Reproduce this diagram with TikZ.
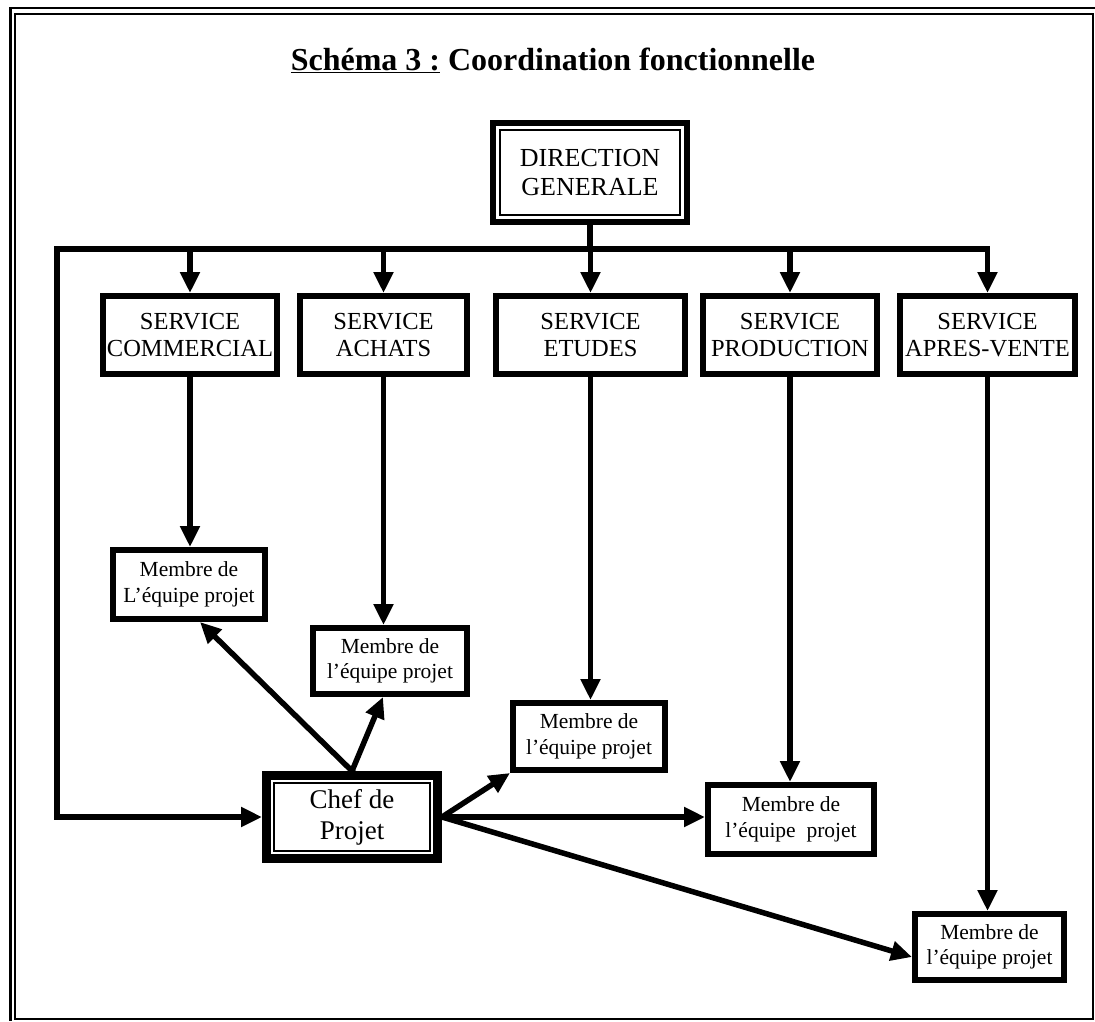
\documentclass[tikz,border=0pt]{standalone}
\usepackage{fontspec}
\setmainfont{Liberation Serif}
\usetikzlibrary{arrows.meta,calc}
\begin{document}
\begin{tikzpicture}[x=1pt,y=-1pt,
  conn/.style={line width=5.5pt,line cap=rect},
  arr/.style={line width=5.5pt,line cap=rect,-{Triangle[width=19pt,length=21pt]}},
  svc/.style={draw,line width=6pt,align=center,inner sep=0pt,
              font=\fontsize{24.5}{27}\selectfont},
  mbr/.style={draw,line width=6pt,align=center,inner sep=0pt,
              font=\fontsize{21.5}{25.5}\selectfont},
  heavybox/.style={draw,align=center,inner sep=0pt}]
\useasboundingbox (0,0) rectangle (1095,1021);

% page frame: heavy outer rule on top and left, thin inner frame
\draw[line width=2.5pt] (9,8) -- (1095,8);
\draw[line width=2.5pt] (10.5,8) -- (10.5,1021);
\draw[line width=2pt] (15,14) rectangle (1092.5,1019);

% title
\node[anchor=base,font=\fontsize{32}{36}\selectfont\bfseries] (title) at (553,70)
  {\underline{Schéma 3 :} Coordination fonctionnelle};

% top management
\node[heavybox,line width=6pt,minimum width=194pt,minimum height=99pt,
      font=\fontsize{26}{29}\selectfont] (dg) at (590,172.5) {DIRECTION\\GENERALE};
\draw[line width=2pt] ($(dg.south west)+(10pt,10pt)$) rectangle ($(dg.north east)+(-10pt,-10pt)$);

% departments
\node[svc,minimum width=174pt,minimum height=78pt] (s1) at (190,335)   {SERVICE\\COMMERCIAL};
\node[svc,minimum width=167pt,minimum height=78pt] (s2) at (383.5,335) {SERVICE\\ACHATS};
\node[svc,minimum width=189pt,minimum height=78pt] (s3) at (590.5,335) {SERVICE\\ETUDES};
\node[svc,minimum width=174pt,minimum height=78pt] (s4) at (790,335)   {SERVICE\\PRODUCTION};
\node[svc,minimum width=175pt,minimum height=78pt] (s5) at (987.5,335) {SERVICE\\APRES-VENTE};

% project team members
\node[mbr,minimum width=152pt,minimum height=69pt] (m1) at (189,584.5) {Membre de\\L’équipe projet};
\node[mbr,minimum width=154pt,minimum height=66pt] (m2) at (390,661)   {Membre de\\l’équipe projet};
\node[mbr,minimum width=152pt,minimum height=67pt] (m3) at (589,736.5) {Membre de\\l’équipe projet};
\node[mbr,minimum width=166pt,minimum height=69pt] (m4) at (791,819.5) {Membre de\\l’équipe\ \ projet};
\node[mbr,minimum width=149pt,minimum height=66pt] (m5) at (989.5,947) {Membre de\\l’équipe projet};

% project manager
\node[heavybox,line width=9pt,minimum width=171pt,minimum height=83pt,
      font=\fontsize{27}{31}\selectfont] (chef) at (352,817) {Chef de\\Projet};
\draw[line width=2pt] ($(chef.south west)+(12pt,12pt)$) rectangle ($(chef.north east)+(-12pt,-12pt)$);

% distribution bus from the top management
\coordinate (bus) at (590,249);
\coordinate (lc) at (57,249);
\draw[conn] (dg.south) -- (dg.south |- bus);
\draw[conn] (lc) -- (s5.north |- bus);
\foreach \s in {s1,s2,s3,s4,s5}
  \draw[arr] (\s.north |- bus) -- (\s.north);
\draw[arr] (lc) |- (chef.west);

% each department delegates a member
\foreach \s/\m in {s1/m1,s2/m2,s3/m3,s4/m4,s5/m5}
  \draw[arr] (\s.south) -- (\s.south |- \m.north);

% the project manager coordinates the members
\draw[arr] (chef.north) -- ($(m1.south)+(11pt,0)$);
\draw[arr] (chef.north) -- ($(m2.south)+(-7pt,0)$);
\draw[arr] (chef.east) -- (m3.south west);
\draw[arr] (chef.east) -- (chef.east -| m4.west);
\draw[arr] (chef.east) -- ($(m5.west)+(0,-10pt)$);
\end{tikzpicture}
\end{document}
